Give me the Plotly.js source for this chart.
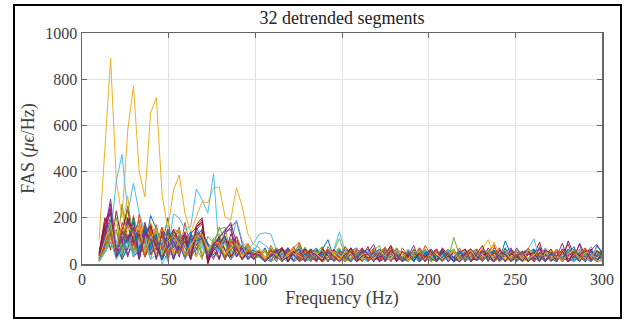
<!DOCTYPE html>
<html>
<head>
<meta charset="utf-8">
<script src="https://cdn.plot.ly/plotly-3.0.1.min.js"></script>
<style>html,body{margin:0;padding:0;background:#fff;}#chart{width:635px;height:320px;}</style>
</head>
<body>
<div id="chart"></div>
<script>
// Frequency bins (Hz)
var freq = [9.9,13.2,16.5,19.8,23.1,26.4,29.7,33,36.3,39.6,42.9,46.2,49.5,52.8,56.1,59.4,62.7,66,69.3,72.6,75.9,79.2,82.5,85.8,89.1,92.4,95.7,99,
102.3,105.6,108.9,112.2,115.5,118.8,122.1,125.4,128.7,132,135.3,138.6,141.9,145.2,148.5,151.8,155.1,158.4,161.7,165,168.3,171.6,174.9,178.2,181.5,184.8,188.1,191.4,194.7,198,201.3,204.6,207.9,211.2,214.5,217.8,221.1,224.4,227.7,231,234.3,237.6,240.9,244.2,247.5,250.8,254.1,257.4,260.7,264,267.3,270.6,273.9,277.2,280.5,283.8,287.1,290.4,293.7,297,300.3];

// FAS values (με/Hz) of the 32 detrended segments
var s0 = [25,120,180,60,140,40,90, 170,60,210,150,80,200,30, 70,120,40,160,110,80,30, 60,100,20,70,40,60,25,
35,70,15,55,25,60,10,75,35,50, 20,65,105,30,55,15,40,60,25,50, 10,45,70,30,20,55,15,35,60,25, 30,50,10,65,40,20,55,30,15,70, 40,25,55,10,60,35,45,20,50,40, 65,15,55,25,45,75,20,50,10,60, 35];
var s1 = [15,90,150,40,120,60,210, 100,30,80,170,50,110,130, 40,180,70,110,30,90,60, 20,120,60,80,40,90,30,
60,20,80,40,15,30,70,95,25,60, 30,10,75,40,65,20,55,25,60,15, 70,30,50,10,65,20,55,35,15,80, 40,60,20,50,25,70,10,35,60,20, 55,80,30,15,65,40,25,55,10,70, 35,60,20,30,55,15,65,25,50,35, 15];
var s2 = [105,500,890,360,200,580,770, 400,290,655,720,300,150,320, 385,220,135,205,270,265,330, 333,205,190,330,250,130,85,
70,30,60,25,55,20,65,30,15,45, 60,25,40,10,35,50,20,45,60,25, 15,50,35,55,20,30,60,10,50,25, 45,15,55,40,20,50,25,60,35,15, 55,30,45,20,35,60,10,25,50,45, 15,55,30,45,20,50,35,60,10,45, 20];
var s3 = [40,150,280,60,90,200,30, 60,150,40,130,70,110,20, 80,120,40,140,100,60,20, 90,130,160,185,90,30,40,
35,55,15,45,65,10,50,40,70,20, 55,25,60,10,30,75,45,15,35,50, 85,20,30,60,15,25,50,10,70,40, 55,15,45,60,25,10,40,35,65,20, 45,55,10,50,20,70,35,15,30,45, 60,25,10,50,85,20,90,35,10,40, 60];
var s4 = [25,70,130,40,260,100,200, 50,80,170,30,130,60,150, 140,40,110,70,20,120,90, 150,160,40,80,20,70,45,
55,20,70,30,10,65,35,15,60,25, 50,75,10,55,110,35,15,60,30,10, 40,65,20,80,45,15,55,20,60,35, 10,25,50,20,115,35,10,30,45,60, 15,50,30,65,10,45,55,25,15,40, 70,30,10,55,35,20,40,50,25,15, 35];
var s5 = [30,60,120,360,475,220,350, 220,140,60,100,0,50,217, 199,150,162,325,278,220,391, 46,120,80,191,100,60,90,
130,135,130,60,20,70,35,15,40,65, 50,10,45,60,140,55,15,50,25,10, 60,30,15,40,70,20,50,25,10,60, 40,15,30,50,65,10,45,25,55,20, 30,60,10,35,50,15,25,55,65,20, 45,10,50,40,60,15,25,45,75,20, 55];
var s6 = [50,180,240,40,130,250,80, 150,40,130,20,150,110,70, 100,130,30,170,200,5,90, 20,110,80,120,30,40,60,
40,65,10,55,45,25,60,15,70,40, 20,30,55,15,65,25,10,60,35,75, 15,30,50,70,20,55,10,60,25,45, 65,15,50,40,10,55,45,25,60,15, 50,40,70,10,45,55,20,50,40,95, 10,55,20,60,35,15,25,50,65,10, 45];
var s7 = [15,80,140,60,30,180,120, 40,140,70,110,50,20,120, 60,100,140,30,150,80,70, 110,60,20,50,80,30,40,
30,10,40,65,25,55,15,45,70,30, 10,60,25,50,15,65,45,10,55,40, 20,50,15,60,45,25,10,40,30,65, 35,15,45,30,55,10,60,25,50,15, 45,55,20,100,40,10,35,60,25,15, 55,30,10,65,35,50,15,45,60,20, 30];
var s8 = [35,110,160,30,60,130,40, 215,90,40,70,120,50,100, 160,30,130,60,110,20,80, 70,30,50,120,60,85,20,
55,15,60,25,70,35,10,25,55,40, 65,15,45,60,20,75,40,10,25,50, 45,15,30,70,40,10,35,45,25,60, 15,35,65,40,10,30,45,60,20,50, 15,70,45,30,10,35,50,65,15,30, 55,20,35,60,10,25,50,70,15,55, 40];
var s9 = [20,90,130,70,150,295,60, 120,180,40,140,90,30,110, 80,130,60,30,140,50,90, 120,70,30,60,80,90,50,
40,60,15,55,25,70,45,10,50,65, 35,15,60,30,55,10,25,50,70,15, 45,60,10,55,40,20,25,65,35,15, 55,30,10,60,40,15,55,25,45,65, 105,40,55,10,50,35,15,60,25,50, 10,65,30,55,15,35,60,20,50,30, 45];
var s10 = [45,130,200,40,70,170,90, 120,30,110,80,140,40,60, 90,30,120,80,130,40,100, 20,140,180,90,30,50,35,
50,15,60,25,45,70,10,55,40,65, 15,50,25,60,10,30,55,70,15,35, 50,60,10,45,65,15,50,40,10,55, 45,65,15,50,25,60,10,55,30,15, 70,35,10,40,60,15,45,55,20,75, 10,50,30,60,15,35,85,10,55,30, 50];
var s11 = [10,50,90,140,60,110,30, 130,90,20,120,100,150,40, 60,110,30,130,70,40,100, 80,20,110,70,50,80,20,
35,55,10,25,60,45,15,50,70,35, 10,40,25,45,60,15,50,35,65,10, 30,55,15,25,70,40,10,35,60,45, 15,30,40,65,10,50,25,15,60,30, 50,10,65,35,15,25,45,60,10,50, 30,55,15,45,65,10,30,50,15,60, 45];
var s12 = [20,70,200,100,20,90,130, 40,110,50,90,130,10,80, 100,30,90,120,70,30,110, 90,20,60,100,30,75,50,
45,10,60,35,15,40,25,65,10,30, 50,15,60,40,25,10,45,70,15,50, 40,10,60,45,15,55,30,10,40,65, 35,15,25,55,10,60,30,15,50,35, 60,10,45,55,15,30,50,65,110,20, 35,10,30,45,60,25,10,40,35,15, 45];
var s13 = [40,160,60,230,90,200,110, 20,150,100,60,130,30,120, 70,140,40,160,190,10,80, 120,60,20,80,50,70,45,
60,20,55,10,65,45,15,50,25,60, 10,70,35,15,45,30,60,10,50,25, 55,15,65,45,10,50,40,60,15,55, 25,10,70,40,15,30,55,10,60,45, 15,50,40,65,10,55,25,15,60,40, 10,35,60,15,100,40,10,55,20,35, 50];
var s14 = [25,100,150,80,20,70,160, 110,40,90,150,60,100,20, 120,80,40,60,140,90,40, 70,100,30,90,50,20,40,
50,25,10,60,35,15,40,70,30,10, 60,35,15,25,55,10,65,30,15,50, 35,10,40,25,55,15,30,65,10,50, 40,15,30,45,10,35,50,15,25,55, 10,60,35,15,40,30,10,45,65,15, 50,25,10,60,40,15,35,50,10,45, 55];
var s15 = [30,70,110,150,30,120,60, 140,90,170,30,80,130,50, 60,100,20,120,90,50,70, 100,30,80,50,20,45,55,
35,10,45,70,15,55,40,90,15,50, 45,10,30,55,15,25,60,10,35,50, 65,15,30,55,10,70,35,15,40,25, 60,10,35,55,15,50,65,10,45,35, 15,30,60,10,50,35,15,70,30,10, 40,50,15,65,45,10,55,40,15,35, 45];
var s16 = [40,120,90,140,110,160,130, 170,50,180,120,40,140,80, 120,40,70,110,50,60,80, 70,90,40,80,70,40,50,
55,25,60,40,20,35,65,45,25,30, 50,15,60,45,20,55,40,65,20,35, 45,60,20,50,55,15,45,60,25,50, 35,55,20,60,40,25,30,55,45,65, 20,50,45,35,15,60,40,25,45,35, 55,20,60,45,25,35,55,20,45,50, 30];
var s17 = [35,90,170,60,110,30,130, 70,160,40,90,60,110,20, 130,70,20,90,140,15,60, 80,120,20,100,60,45,20,
40,15,30,50,70,10,55,25,45,15, 35,50,10,65,30,15,45,25,60,10, 50,35,70,15,30,55,10,60,25,50, 15,35,65,10,55,30,15,45,35,60, 25,10,40,50,70,15,45,60,10,50, 40,65,15,55,25,10,45,30,60,10, 55];
var s18 = [15,60,100,30,140,90,60, 110,30,130,160,40,140,100, 80,30,110,140,40,60,80, 160,100,30,60,80,20,40,
30,10,40,70,45,15,55,80,20,60, 35,10,25,55,40,65,15,50,45,10, 60,40,75,15,50,25,10,55,25,60, 15,50,30,65,10,35,55,15,30,50, 60,15,35,55,10,25,50,65,15,45, 55,10,50,40,15,35,45,25,10,40, 50];
var s19 = [30,80,160,20,90,130,30, 100,60,140,90,20,30,90, 120,80,20,100,80,40,70, 60,90,30,80,50,20,70,
50,15,60,45,25,10,40,70,15,50, 45,65,10,55,40,15,60,20,25,50, 10,55,40,65,15,45,10,35,50,15, 25,55,10,30,60,15,50,35,65,15, 30,10,40,50,15,60,25,10,55,40, 65,15,50,30,10,60,40,25,10,45, 35];
var s20 = [50,200,130,30,140,240,90, 130,30,160,100,20,80,140, 110,30,130,160,180,0,70, 110,30,130,90,20,50,45,
45,15,35,55,70,10,50,30,65,15, 35,55,10,60,30,15,70,35,10,55, 40,65,10,50,45,15,35,55,10,50, 40,60,15,35,55,10,50,65,15,45, 35,10,50,40,15,30,45,60,10,50, 40,15,30,65,10,35,50,15,40,10, 50];
var s21 = [20,90,190,30,70,110,150, 30,180,60,120,20,70,130, 90,20,110,80,120,35,80, 90,20,100,70,30,50,60,
35,15,45,30,60,10,50,25,15,45, 70,15,50,10,60,30,15,45,35,65, 10,50,30,15,45,25,60,10,50,35, 65,15,30,55,10,50,35,15,25,45, 55,10,30,70,15,35,55,10,60,30, 15,45,35,10,40,65,30,10,45,35, 60];
var s22 = [25,100,140,40,180,110,80, 120,30,150,90,130,20,110, 140,90,20,120,110,30,100, 80,20,90,100,30,55,45,
40,15,30,65,10,50,35,60,15,55, 30,10,65,35,15,40,55,10,60,45, 15,50,70,10,55,30,15,60,35,10, 40,65,15,45,55,10,60,40,15,30, 45,85,10,55,40,15,30,50,10,35, 55,15,65,30,10,45,35,15,40,50, 30];
var s23 = [35,110,150,170,120,140,180, 150,170,130,40,160,120,40, 110,80,40,90,120,70,90, 80,40,90,60,40,55,45,
60,25,55,40,20,65,45,35,20,50, 40,60,20,55,35,15,60,40,20,55, 35,50,20,45,40,55,15,35,60,20, 50,40,20,45,60,35,15,45,55,40, 20,95,45,20,35,55,20,60,40,15, 45,55,20,60,30,40,55,15,35,50, 45];
var s24 = [40,140,230,40,80,190,120, 30,170,130,70,20,150,90, 60,100,30,120,150,20,90, 110,150,170,30,80,60,20,
55,10,45,60,15,70,40,10,25,55, 15,65,35,10,60,30,15,40,70,15, 55,10,25,60,40,15,35,80,10,30, 55,15,60,35,10,25,45,65,15,55, 30,10,45,60,15,40,55,10,50,65, 15,45,35,10,50,30,15,45,10,80, 45];
var s25 = [20,60,150,200,40,250,130, 30,120,90,140,20,110,130, 150,30,80,110,90,40,110, 130,30,60,90,20,60,40,
40,65,10,50,45,15,60,40,10,25, 45,60,15,50,70,10,30,55,15,35, 60,80,10,50,30,15,45,25,60,10, 50,35,10,45,65,15,30,50,60,15, 45,10,25,50,15,60,35,10,55,30, 15,40,65,10,45,60,15,50,10,55, 35];
var s26 = [15,50,100,20,60,100,40, 80,120,20,40,30,60,100, 130,20,60,140,100,50,80, 60,120,20,60,90,20,50,
100,80,60,15,55,30,10,60,35,15, 40,25,55,10,65,35,15,40,30,10, 45,60,15,25,50,10,65,30,15,55, 35,10,40,60,15,45,55,10,50,40, 15,35,45,10,30,55,15,65,35,10, 50,30,15,40,45,10,60,40,15,75, 50];
var s27 = [45,170,220,30,150,110,180, 20,120,170,80,20,100,150, 90,120,20,150,175,10,60, 90,120,30,70,20,50,40,
50,15,60,25,70,10,55,40,15,65, 35,10,60,30,15,40,70,10,35,50, 15,30,45,80,10,55,35,15,45,30, 60,10,55,35,15,45,65,10,45,80, 15,50,35,10,45,30,15,40,50,10, 60,45,15,55,10,50,35,65,15,55, 40];
var s28 = [30,110,170,40,120,90,200, 30,160,80,130,20,140,70, 110,30,130,100,110,30,90, 70,20,80,60,30,45,50,
45,10,35,50,15,65,40,15,45,35, 10,40,50,15,55,45,10,35,50,15, 30,55,15,60,35,10,25,55,15,45, 60,15,50,10,30,55,15,65,35,10, 40,60,15,55,10,35,50,15,60,30, 10,45,35,15,65,40,10,55,45,15, 50];
var s29 = [25,80,130,40,150,100,130, 190,30,140,90,160,40,80, 120,30,70,130,120,50,80, 90,20,100,60,30,60,50,
55,15,65,35,10,45,75,15,55,30, 10,45,60,15,55,25,10,65,45,15, 35,55,10,60,45,15,55,40,70,10, 35,50,15,40,55,10,30,50,65,15, 45,10,35,60,15,50,45,10,55,40, 15,35,50,10,40,55,15,60,30,10, 20];
var s30 = [30,100,180,40,140,170,120, 160,50,110,150,40,100,120, 90,40,80,120,130,60,100, 90,40,70,90,30,70,50,
45,20,50,40,15,45,60,35,20,55, 45,20,60,50,15,55,45,20,40,50, 15,55,35,20,60,40,20,55,50,15, 60,45,20,40,55,15,35,60,20,45, 55,20,50,60,15,35,55,20,40,60, 20,50,35,15,45,60,20,50,45,15, 10];
var s31 = [35,120,260,40,140,100,160, 30,130,110,20,140,70,100, 30,130,90,140,110,30,80, 120,140,150,30,70,20,45,
40,10,35,60,15,30,50,65,10,55, 35,15,60,30,10,40,55,15,65,45, 10,50,15,60,35,10,45,25,50,10, 65,35,15,45,30,10,40,50,15,55, 45,10,60,40,15,35,55,10,30,65, 15,50,35,90,10,55,40,15,60,85, 45];

var segments = [s0,s1,s2,s3,s4,s5,s6,s7,s8,s9,s10,s11,s12,s13,s14,s15,s16,s17,s18,s19,s20,s21,s22,s23,s24,s25,s26,s27,s28,s29,s30,s31];
var palette = ['#0072BD','#D95319','#EDB120','#7E2F8E','#77AC30','#4DBEEE','#A2142F'];

var traces = segments.map(function(v, i){
  return {x: freq, y: v, type: 'scatter', mode: 'lines',
          line: {color: palette[i % palette.length], width: 1},
          hoverinfo: 'skip', name: 'Segment ' + (i+1)};
});

var serif = 'Liberation Serif';
var axisCommon = {
  ticks: 'inside', ticklen: 5, tickwidth: 1, tickcolor: '#666',
  showline: true, linecolor: '#666', linewidth: 1.5, mirror: 'ticks',
  showgrid: true, gridcolor: '#e3e3e3', gridwidth: 1, zeroline: false,
  tickfont: {family: serif, size: 16, color: '#404040'}
};

var layout = {
  width: 635, height: 320,
  margin: {l: 82, r: 33, t: 33, b: 56},
  paper_bgcolor: '#ffffff', plot_bgcolor: '#ffffff',
  showlegend: false,
  font: {family: serif, color: '#404040', size: 16},
  title: {text: '32 detrended segments', font: {family: serif, size: 18, color: '#222'},
          x: 0.5, xanchor: 'center', xref: 'paper', y: 1 - 18/320, yanchor: 'middle', yref: 'container'},
  xaxis: Object.assign({}, axisCommon, {range: [0, 300], tick0: 0, dtick: 50,
          title: {text: 'Frequency (Hz)', font: {family: serif, size: 18, color: '#404040'}, standoff: 4}}),
  yaxis: Object.assign({}, axisCommon, {range: [0, 1000], tick0: 0, dtick: 200,
          title: {text: 'FAS (<i>μϵ</i>/Hz)', font: {family: serif, size: 18, color: '#404040'}, standoff: 6}}),
  shapes: [{type: 'rect', xref: 'paper', yref: 'paper',
            x0: (14-82)/520, x1: (621-82)/520, y0: (264-318)/231, y1: (264-5)/231,
            line: {color: '#000', width: 2}, fillcolor: 'rgba(0,0,0,0)', layer: 'above'}]
};

Plotly.newPlot('chart', traces, layout, {displayModeBar: false, staticPlot: true}).then(function(){
  var bad = [];
  segments.forEach(function(v, i){ if (v.length !== freq.length) bad.push('s' + i + ':' + v.length); });
  if (bad.length) throw new Error('length mismatch ' + bad.join(','));
});
</script>
</body>
</html>
